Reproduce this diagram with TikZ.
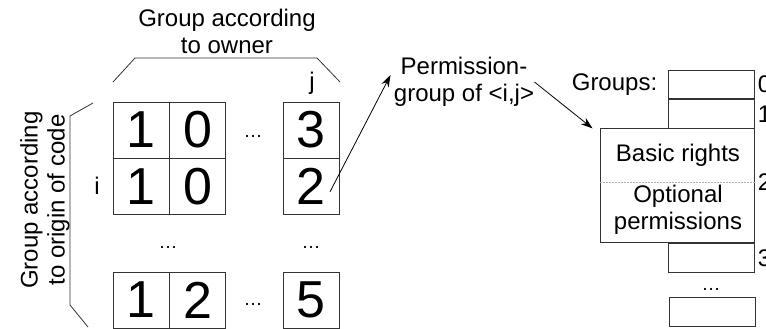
\documentclass[tikz,border=0pt]{standalone}
\usepackage{fontspec}
\setmainfont{Liberation Sans}
\usetikzlibrary{arrows.meta,positioning,calc}

\begin{document}
\begin{tikzpicture}[x=1pt, y=-1pt, >={Stealth[length=12pt,width=8pt]}, line width=0.8pt,
  font=\fontsize{24}{27}\selectfont]
\tikzstyle{cell}=[draw=black!80, minimum size=56pt, inner sep=0pt, font=\fontsize{52}{52}\selectfont]
\tikzstyle{grp}=[draw=black!80, minimum width=86pt, minimum height=28.5pt, inner sep=0pt]
\tikzstyle{idx}=[anchor=west, inner sep=0pt]
\tikzstyle{dots}=[anchor=base, inner sep=0pt, font=\fontsize{19}{19}\selectfont]
\useasboundingbox (0,0) rectangle (766,329);

% permission matrix
\node[cell] (a1)                     at (141,130) {1};
\node[cell] (a2) [right=0pt of a1]              {0};
\node[cell] (a3)                     at (311,130) {3};
\node[cell] (b1) [below=0pt of a1]              {1};
\node[cell] (b2) [right=0pt of b1]              {0};
\node[cell] (b3) [below=0pt of a3]              {2};
\node[cell] (c1)                     at (141,300) {1};
\node[cell] (c2) [right=0pt of c1]              {2};
\node[cell] (c3)                     at (311,300) {5};
\node[dots] (d1) at (253,137) {…};
\node[dots] (d2) at (168,248) {…};
\node[dots] (d3) at (311,248) {…};
\node[dots] (d4) at (253,305) {…};
\node (i) at (97,186) {i};
\node (j) at (312,83) {j};

% brackets
\draw[black!80] (113,82) -- (135,58) -- (317,58) -- (340,82);
\draw[black!80] (93,103) -- (70,116) -- (70,305) -- (88,327);
\node[align=center] (owner) at (227,31) {Group according\\to owner};
\node[align=center, rotate=90] (origin) at (45,200) {Group according\\to origin of code};

% permission group
\node[align=center, inner sep=0pt] (perm) at (464,82) {Permission-\\group of <i,j>};
\coordinate (s) at ($(b3.center)+(19,5)$);
\draw[->] (s) -- ($(perm.west)+(-3,-7)$);

% group table
\node[grp] (g0) at (711,84.5) {};
\node[grp] (g1) [below=0pt of g0] {};
\node[draw=black!80, minimum width=154pt, minimum height=114pt, inner sep=0pt, anchor=north east]
  (big) at (g1.south east) {};
\node[grp] (g3) [below=0pt of big.south east, anchor=north east] {};
\node[dots] (d5) at (711,290) {…};
\node[grp] (g4) at (712,312) {};
\node[inner sep=0pt] (basic) at (678,155) {Basic rights};
\node[align=center, inner sep=0pt] (opt) at (678,210) {Optional\\permissions};
\draw[gray!60, densely dotted, line width=0.5pt] (big.west |- 0,182) -- (big.east |- 0,182);
\node[inner sep=0pt, left=10pt of g0] (groups) {Groups:};
\node[idx] at ($(g0.east)+(3,0)$) {0};
\node[idx] at ($(g1.east)+(3,0)$) {1};
\node[idx] at ($(big.east |- 0,182)+(3,0)$) {2};
\node[idx] at ($(g3.east)+(3,0)$) {3};
\draw[->] (perm.east) -- ($(big.north west)+(-7,0)$);

\end{tikzpicture}
\end{document}
